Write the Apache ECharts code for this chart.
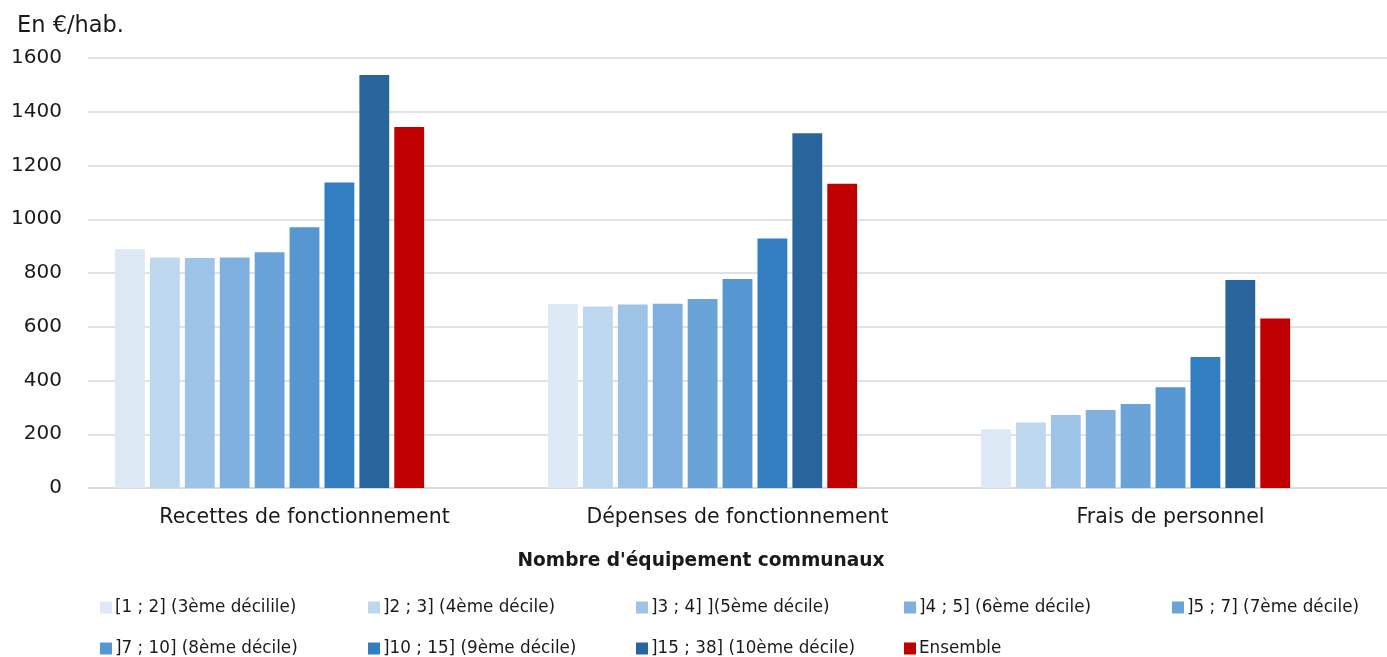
<!DOCTYPE html>
<html><head><meta charset="utf-8">
<script src="https://cdn.jsdelivr.net/npm/echarts@6/dist/echarts.min.js"></script>
<style>html,body{margin:0;padding:0;background:#fff}#c{width:1387px;height:657px}</style>
</head><body><div id="c"></div>
<script>
const categories = ['Recettes de fonctionnement', 'Dépenses de fonctionnement', 'Frais de personnel'];
const seriesNames = ['[1 ; 2] (3ème décilile)', ']2 ; 3] (4ème décile)', ']3 ; 4] ](5ème décile)', ']4 ; 5] (6ème décile)', ']5 ; 7] (7ème décile)', ']7 ; 10] (8ème décile)', ']10 ; 15] (9ème décile)', ']15 ; 38] (10ème décile)', 'Ensemble'];
const s1 = [888, 685, 219];
const s2 = [858, 675, 244];
const s3 = [856, 683, 272];
const s4 = [858, 686, 290];
const s5 = [877, 703, 313];
const s6 = [970, 778, 375];
const s7 = [1137, 928, 487];
const s8 = [1537, 1320, 774];
const s9 = [1343, 1132, 631];
const seriesValues = [s1, s2, s3, s4, s5, s6, s7, s8, s9];
const colors = ['#dde9f5', '#bdd7ee', '#9dc3e6', '#80b0df', '#69a3d8', '#5697d2', '#337dc1', '#28659c', '#c00000'];
const yTicks = [0, 200, 400, 600, 800, 1000, 1200, 1400, 1600];

const FONT = '"DejaVu Sans", "Noto Sans", sans-serif';
const TXT = '#1a1a1a';
const chart = echarts.init(document.getElementById('c'));
const series = seriesValues.map((v, i) => ({
  name: seriesNames[i], type: 'bar', data: v,
  itemStyle: { color: colors[i] },
  barCategoryGap: '12.5%', barGap: '17%'
}));
series.push({ name: '_e1', type: 'bar', data: [null, null, null] });
series.push({ name: '_e2', type: 'bar', data: [null, null, null] });

const legends = seriesNames.map((n, i) => ({
  data: [n],
  left: 100 + (i % 5) * 268,
  top: i < 5 ? 599 : 640,
  itemWidth: 12, itemHeight: 12, icon: 'rect', selectedMode: false, padding: 0,
  textStyle: { fontFamily: FONT, fontSize: 16.8, color: TXT, padding: [0, 0, 0, -2] }
}));

chart.setOption({
  animation: false,
  color: colors,
  grid: { left: 88, right: 0, top: 58, bottom: 169, containLabel: false },
  legend: legends,
  xAxis: {
    type: 'category', data: categories,
    axisLine: { lineStyle: { color: '#d9d9d9', width: 1.5 } },
    axisTick: { show: false },
    axisLabel: { fontFamily: FONT, fontSize: 20.5, color: TXT, margin: 19 }
  },
  yAxis: {
    type: 'value', min: 0, max: 1600, interval: 200,
    axisLine: { show: false }, axisTick: { show: false },
    splitLine: { lineStyle: { color: '#d9d9d9', width: 1.5 } },
    axisLabel: { fontFamily: FONT, fontSize: 20, color: TXT, margin: 26, formatter: v => String(v) }
  },
  graphic: [
    { type: 'text', left: 17, top: 15, style: { text: 'En €/hab.', fontFamily: FONT, fontSize: 22.5, fill: TXT } },
    { type: 'text', x: 701, y: 561, style: { text: "Nombre d'équipement communaux", fontFamily: FONT, fontSize: 18.6, fontWeight: 'bold', fill: TXT, align: 'center', verticalAlign: 'middle' } }
  ],
  series: series
});
</script></body></html>
